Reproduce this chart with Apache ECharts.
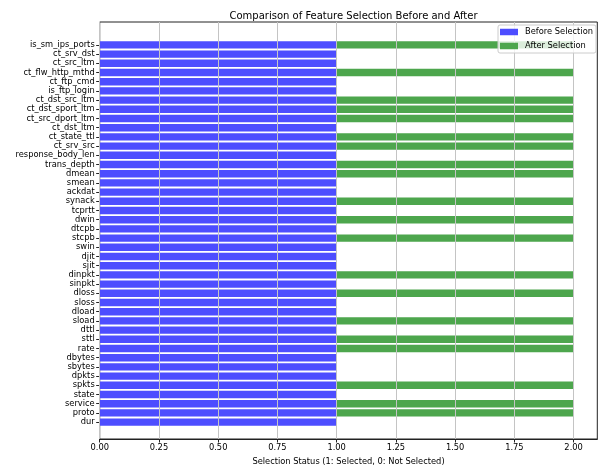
<!DOCTYPE html>
<html>
<head>
<meta charset="utf-8">
<script src="https://cdn.jsdelivr.net/npm/echarts@6/dist/echarts.min.js"></script>
<style>
html,body{margin:0;padding:0;background:#fff;}
#chart{width:599px;height:471px;}
</style>
</head>
<body>
<div id="chart"></div>
<script>
// Features listed bottom-to-top as drawn on the y axis
const features = ['dur','proto','service','state','spkts','dpkts','sbytes','dbytes','rate','sttl','dttl','sload','dload','sloss','dloss','sinpkt','dinpkt','sjit','djit','swin','stcpb','dtcpb','dwin','tcprtt','synack','ackdat','smean','dmean','trans_depth','response_body_len','ct_srv_src','ct_state_ttl','ct_dst_ltm','ct_src_dport_ltm','ct_dst_sport_ltm','ct_dst_src_ltm','is_ftp_login','ct_ftp_cmd','ct_flw_http_mthd','ct_src_ltm','ct_srv_dst','is_sm_ips_ports'];
const beforeSelection = [1,1,1,1,1,1,1,1,1,1,1,1,1,1,1,1,1,1,1,1,1,1,1,1,1,1,1,1,1,1,1,1,1,1,1,1,1,1,1,1,1,1];
const afterSelection  = [0,1,1,0,1,0,0,0,1,1,0,1,0,0,1,0,1,0,0,0,1,0,1,0,1,0,0,1,1,0,1,1,0,1,1,1,0,0,1,0,0,1];
const xTicks = [0, 0.25, 0.5, 0.75, 1.0, 1.25, 1.5, 1.75, 2.0];

const FONT = 'DejaVu Sans';
const chart = echarts.init(document.getElementById('chart'), null, {renderer: 'canvas'});
const L = 99.7, R = 1.7;
chart.setOption({
  animation: false,
  backgroundColor: '#fff',
  textStyle: {fontFamily: FONT},
  title: {
    text: 'Comparison of Feature Selection Before and After',
    left: L + (599 - L - R) / 2, top: 6, textAlign: 'center',
    textStyle: {fontFamily: FONT, fontSize: 10, fontWeight: 'normal', color: '#000'}
  },
  legend: {
    orient: 'vertical', right: 3, top: 25,
    data: ['Before Selection', 'After Selection'],
    icon: 'rect', itemWidth: 18, itemHeight: 6.5, itemGap: 6,
    padding: [3, 3, 3, 2],
    backgroundColor: 'rgba(255,255,255,0.8)', borderColor: '#cccccc', borderWidth: 1, borderRadius: 2,
    textStyle: {fontFamily: FONT, fontSize: 8.3, color: '#000', padding: [0, 0, 0, 2]},
    z: 10
  },
  grid: [
    {left: L, right: R, top: 22, bottom: 26, show: true, borderColor: '#222', borderWidth: 1, backgroundColor: 'transparent', containLabel: false},
    {left: L, right: R, top: 40.3, bottom: 44.3, containLabel: false}
  ],
  xAxis: [
    {
      gridIndex: 0, type: 'value', min: 0, max: 2.1, z: 3,
      name: 'Selection Status (1: Selected, 0: Not Selected)',
      nameLocation: 'middle', nameGap: 19,
      nameTextStyle: {fontFamily: FONT, fontSize: 8.3, color: '#000'},
      axisLine: {show: true, lineStyle: {color: '#222', width: 1}},
      axisTick: {show: true, inside: false, length: 3.5, customValues: xTicks, lineStyle: {color: '#222'}},
      axisLabel: {customValues: xTicks, margin: 5, fontFamily: FONT, fontSize: 8.3, color: '#000', formatter: v => v.toFixed(2)},
      splitLine: {show: true, lineStyle: {color: '#c4c4c4', width: 1}}
    },
    {gridIndex: 1, type: 'value', min: 0, max: 2.1, show: false, splitLine: {show: false}}
  ],
  yAxis: [
    {gridIndex: 0, type: 'value', min: 0, max: 1, show: false, splitLine: {show: false}},
    {
      gridIndex: 1, type: 'category', data: features,
      axisLine: {show: false},
      axisTick: {show: true, alignWithLabel: true, length: 3.5, lineStyle: {color: '#222'}},
      axisLabel: {interval: 0, margin: 5, fontFamily: FONT, fontSize: 8.3, color: '#000'},
      splitLine: {show: false}
    }
  ],
  series: [
    {
      name: 'Before Selection', type: 'bar', xAxisIndex: 1, yAxisIndex: 1, stack: 'sel',
      data: beforeSelection, barWidth: '80%', itemStyle: {color: '#4d4dff'}
    },
    {
      name: 'After Selection', type: 'bar', xAxisIndex: 1, yAxisIndex: 1, stack: 'sel',
      data: afterSelection, barWidth: '80%', itemStyle: {color: '#4da64d'}
    }
  ]
});
</script>
</body>
</html>
